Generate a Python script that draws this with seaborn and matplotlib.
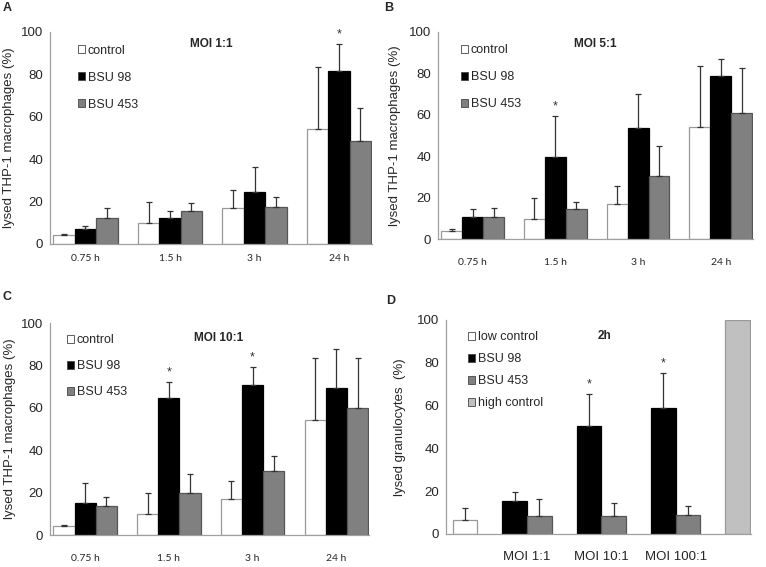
import numpy as np
import pandas as pd
import matplotlib
matplotlib.use("Agg")
import matplotlib.pyplot as plt
import seaborn as sns
from matplotlib.patches import Patch

# Dados
tempos = ["0.75 h", "1.5 h", "3 h", "24 h"]
cepas = ["control", "BSU 98", "BSU 453"]

controle = [4.1, 9.9, 17.1, 54.2]
controle_err = [0.6, 9.8, 8.4, 29.3]

# MOI 1:1
a_bsu98 = [6.9, 12.5, 24.4, 81.8]
a_bsu98_err = [1.4, 3.2, 12.0, 12.6]
a_bsu453 = [12.1, 15.7, 17.6, 48.8]
a_bsu453_err = [4.8, 3.8, 4.7, 15.5]
a_sig = [False, False, False, True]

# MOI 5:1
b_bsu98 = [10.6, 39.4, 53.5, 78.9]
b_bsu98_err = [3.9, 20.2, 16.4, 8.2]
b_bsu453 = [10.8, 14.6, 30.5, 60.8]
b_bsu453_err = [4.3, 3.4, 14.4, 21.8]
b_sig = [False, True, False, False]

# MOI 10:1
c_bsu98 = [15.1, 64.5, 70.6, 69.5]
c_bsu98_err = [9.5, 7.6, 8.5, 18.1]
c_bsu453 = [13.8, 19.9, 30.0, 60.0]
c_bsu453_err = [4.1, 8.8, 7.2, 23.5]
c_sig = [False, True, True, False]

# Granulocitos 2h
d_grupos = ["MOI 1:1", "MOI 10:1", "MOI 100:1"]
d_low = 6.7
d_low_err = 5.4
d_high = 100
d_bsu98 = [15.3, 50.5, 58.9]
d_bsu98_err = [4.3, 14.8, 16.5]
d_bsu453 = [8.4, 8.6, 9.0]
d_bsu453_err = [8.1, 5.7, 4.2]
d_sig = [False, True, True]

cores = {"control": "white", "BSU 98": "black", "BSU 453": "#808080",
         "low control": "white", "high control": "#c0c0c0"}
bordas = {"control": "#999999", "BSU 98": "black", "BSU 453": "#555555",
          "low control": "#999999", "high control": "#999999"}

sns.set_style("white")
plt.rcParams["font.family"] = ["Liberation Sans", "DejaVu Sans"]

fig = plt.figure(figsize=(7.66, 5.67), dpi=100)
W, H = 766, 567


def eixo(x0, x1, ytop, ybot):
    return fig.add_axes([x0 / W, 1 - ybot / H, (x1 - x0) / W, (ybot - ytop) / H])


def estilo(ax, ylabel, ylx):
    ax.set_ylim(0, 100)
    ax.set_yticks([0, 20, 40, 60, 80, 100])
    for s in ["top", "right"]:
        ax.spines[s].set_visible(False)
    for s in ["left", "bottom"]:
        ax.spines[s].set_color("#a0a0a0")
        ax.spines[s].set_linewidth(0.9)
    ax.tick_params(axis="y", length=3, color="#a0a0a0", labelsize=9.5, pad=2)
    ax.set_ylabel(ylabel, fontsize=9.5)
    ax.yaxis.set_label_coords(ylx, 0.5)
    ax.set_xlabel("")


def legenda(ax, nomes, x, y, esp):
    handles = [Patch(facecolor=cores[n], edgecolor="#444444", linewidth=0.6, label=n) for n in nomes]
    ax.legend(handles=handles, loc="upper left", bbox_to_anchor=(x, y), frameon=False,
              borderpad=0, borderaxespad=0, handlelength=0.6, handleheight=0.6,
              handletextpad=0.2, labelspacing=esp, fontsize=9)


def painel_tempo(ax, bsu98, bsu98_err, bsu453, bsu453_err, sig, titulo, ty, pad, ylx, leg):
    df = pd.DataFrame({
        "tempo": tempos * 3,
        "cepa": np.repeat(cepas, 4),
        "valor": controle + bsu98 + bsu453,
    })
    sns.barplot(data=df, x="tempo", y="valor", hue="cepa", hue_order=cepas,
                palette=cores, width=0.76, errorbar=None, legend=False, ax=ax, linewidth=0.9)
    erros = [controle_err, bsu98_err, bsu453_err]
    medias = [controle, bsu98, bsu453]
    barras = list(ax.containers)
    for k, cont in enumerate(barras):
        xs = []
        for p in cont.patches:
            p.set_edgecolor(bordas[cepas[k]])
            xs.append(p.get_x() + p.get_width() / 2)
        ax.errorbar(xs, medias[k], yerr=[np.zeros(4), erros[k]], fmt="none",
                    ecolor="#333333", elinewidth=0.9, capsize=2.5, capthick=0.9)
        if k == 1:
            for i, s in enumerate(sig):
                if s:
                    ax.text(xs[i], medias[k][i] + erros[k][i] + 4.5, "*", ha="center",
                            va="center", fontsize=9, color="#333333")
    ax.set_xlim(-0.42, 3.39)
    ax.tick_params(axis="x", length=0, pad=pad)
    for t in ax.get_xticklabels():
        t.set_fontfamily("Lato")
        t.set_fontsize(7.5)
    estilo(ax, "lysed THP-1 macrophages (%)", ylx)
    ax.text(0.5 + (0.03 if titulo == "MOI 10:1" else 0), ty, titulo, transform=ax.transAxes,
            ha="center", va="center", fontsize=8.5, fontweight="bold")
    legenda(ax, cepas, leg[0], leg[1], leg[2])


axA = eixo(50, 372, 32, 244)
painel_tempo(axA, a_bsu98, a_bsu98_err, a_bsu453, a_bsu453_err, a_sig, "MOI 1:1", 0.945, 7, -0.108,
             (0.086, 0.94, 1.2))
axB = eixo(438, 753, 32, 239)
painel_tempo(axB, b_bsu98, b_bsu98_err, b_bsu453, b_bsu453_err, b_sig, "MOI 5:1", 0.944, 14, -0.117,
             (0.072, 0.94, 1.2))
axC = eixo(50, 369, 323, 535)
painel_tempo(axC, c_bsu98, c_bsu98_err, c_bsu453, c_bsu453_err, c_sig, "MOI 10:1", 0.929, 14, -0.108,
             (0.052, 0.946, 1.12))

# Painel D
axD = eixo(446, 751, 320, 534)
bw = 0.332
pos, val, ser, err = [], [], [], []
pos.append(0 + bw / 2); val.append(d_low); ser.append("low control"); err.append(d_low_err)
for i in range(len(d_grupos)):
    pos.append(i + 1 - bw / 2); val.append(d_bsu98[i]); ser.append("BSU 98"); err.append(d_bsu98_err[i])
    pos.append(i + 1 + bw / 2); val.append(d_bsu453[i]); ser.append("BSU 453"); err.append(d_bsu453_err[i])
pos.append(len(d_grupos) + 1 - bw / 2); val.append(d_high); ser.append("high control"); err.append(0)
dfd = pd.DataFrame({"pos": pos, "valor": val, "serie": ser, "err": err})
ordem_d = ["low control", "BSU 98", "BSU 453", "high control"]
sns.barplot(data=dfd, x="pos", y="valor", hue="serie", hue_order=ordem_d, palette=cores,
            native_scale=True, dodge=False, width=1.0, errorbar=None, legend=False, ax=axD, linewidth=0.9)
for k, cont in enumerate(list(axD.containers)):
    for p in cont.patches:
        p.set_edgecolor(bordas[ordem_d[k]])
com_err = dfd[dfd["serie"] != "high control"]
axD.errorbar(com_err["pos"], com_err["valor"], yerr=[np.zeros(len(com_err)), com_err["err"]], fmt="none",
             ecolor="#333333", elinewidth=0.9, capsize=2.5, capthick=0.9)
b98 = dfd[dfd["serie"] == "BSU 98"].reset_index(drop=True)
for i, s in enumerate(d_sig):
    if s:
        axD.text(b98["pos"][i], b98["valor"][i] + b98["err"][i] + 4.5, "*", ha="center", va="center",
                 fontsize=9, color="#333333")
axD.set_xlim(-0.09, 4.015)
axD.set_xticks(range(1, len(d_grupos) + 1))
axD.set_xticklabels(d_grupos, fontsize=9.5)
axD.tick_params(axis="x", length=0, pad=12)
estilo(axD, "lysed granulocytes  (%)", -0.131)
axD.text(0.52, 0.925, "2h", transform=axD.transAxes, ha="center", va="center", fontsize=8.5, fontweight="bold")
legenda(axD, ordem_d, 0.072, 0.947, 0.8)

for letra, x, y in [("A", 7.5, 8), ("B", 389, 8), ("C", 6.5, 297), ("D", 391, 301)]:
    fig.text(x / W, 1 - y / H, letra, ha="center", va="center", fontsize=9, fontweight="bold")

fig.savefig("out.png", dpi=100)
